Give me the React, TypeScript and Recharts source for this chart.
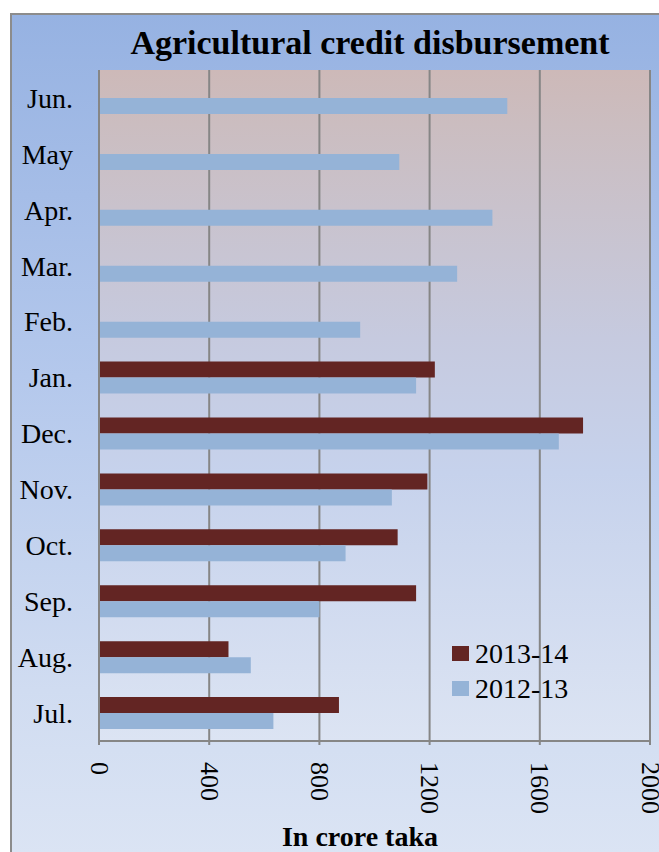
import React from 'react'
import { BarChart, Bar, XAxis, YAxis, CartesianGrid } from 'recharts'

// Months, top to bottom as they appear in the chart
const MONTHS = ['Jun.', 'May', 'Apr.', 'Mar.', 'Feb.', 'Jan.', 'Dec.', 'Nov.', 'Oct.', 'Sep.', 'Aug.', 'Jul.']

// In crore taka (2013-14 only runs to January)
const FY_2013_14 = [null, null, null, null, null, 1219, 1757, 1192, 1084, 1151, 470, 871]
const FY_2012_13 = [1482, 1090, 1428, 1300, 948, 1151, 1669, 1063, 895, 800, 551, 633]

const X_TICKS = [0, 400, 800, 1200, 1600, 2000]

const SERIES = [
  { key: 'fy1314', name: '2013-14', color: '#632523' },
  { key: 'fy1213', name: '2012-13', color: '#95b3d7' },
]

const FONT = "'Liberation Serif', 'Times New Roman', serif"

const data = MONTHS.map((month, i) => ({
  month,
  fy1314: FY_2013_14[i],
  fy1213: FY_2012_13[i],
}))

// month labels on the left
function MonthTick(props: any) {
  const { y, payload } = props
  return (
    <text x={73} y={y} dy="0.35em" textAnchor="end" style={{ fontFamily: FONT }} fontSize={28} fill="#000">
      {payload.value}
    </text>
  )
}

// value labels under the axis, turned 90 degrees
function ValueTick(props: any) {
  const { x, y, payload } = props
  const ty = y + 15
  return (
    <text
      x={x}
      y={ty}
      transform={`rotate(90, ${x}, ${ty})`}
      textAnchor="start"
      dominantBaseline="central"
      style={{ fontFamily: FONT }}
      fontSize={26}
      fill="#000"
    >
      {payload.value}
    </text>
  )
}

// legend sits inside the plot, lower right
function LegendBox() {
  return (
    <div
      style={{
        position: 'absolute',
        left: 452,
        top: 636,
        fontFamily: FONT,
        fontSize: 28,
        color: '#000',
        lineHeight: '35px',
      }}
    >
      {SERIES.map((s) => (
        <div key={s.key} style={{ display: 'flex', alignItems: 'center' }}>
          <span style={{ display: 'inline-block', width: 17, height: 15, background: s.color, marginRight: 6 }} />
          <span>{s.name}</span>
        </div>
      ))}
    </div>
  )
}

export default function App() {
  return (
    <div style={{ position: 'absolute', left: 0, top: 0, width: 659, height: 852, background: '#fff', overflow: 'hidden' }}>
      {/* outer frame with blue gradient */}
      <div
        style={{
          position: 'absolute',
          left: 10,
          top: 13,
          width: 700,
          height: 900,
          borderLeft: '2px solid #8c8c8c',
          borderTop: '2px solid #8c8c8c',
          background: 'linear-gradient(to bottom, #96b2e2 0%, #b4c8ec 40%, #d0dcf1 75%, #dfe7f5 100%)',
        }}
      />
      <BarChart
        width={659}
        height={852}
        data={data}
        layout="vertical"
        margin={{ top: 70, right: 9, bottom: 0, left: 10 }}
        barSize={16}
        barGap={0}
        style={{ position: 'absolute', left: 0, top: 0 }}
      >
        <defs>
          <linearGradient id="plotBg" x1="0" y1="0" x2="0" y2="1">
            <stop offset="0%" stopColor="#cdb9b8" />
            <stop offset="8%" stopColor="#cbbdc0" />
            <stop offset="40%" stopColor="#c6cadf" />
            <stop offset="60%" stopColor="#c6d2ec" />
            <stop offset="100%" stopColor="#dce4f3" />
          </linearGradient>
        </defs>
        <CartesianGrid horizontal={false} stroke="#868686" strokeWidth={2} fill="url(#plotBg)" />
        <XAxis
          type="number"
          domain={[0, 2000]}
          ticks={X_TICKS}
          interval={0}
          height={111}
          axisLine={{ stroke: '#868686', strokeWidth: 2 }}
          tickLine={{ stroke: '#868686', strokeWidth: 2 }}
          tickSize={4}
          tick={<ValueTick />}
        />
        <XAxis
          xAxisId="top"
          orientation="top"
          type="number"
          domain={[0, 2000]}
          height={0}
          tick={false}
          tickLine={false}
          axisLine={{ stroke: '#111', strokeWidth: 2 }}
        />
        <YAxis
          type="category"
          dataKey="month"
          width={89}
          tickLine={false}
          axisLine={{ stroke: '#868686', strokeWidth: 2 }}
          tick={<MonthTick />}
          interval={0}
        />
        <YAxis
          yAxisId="right"
          orientation="right"
          type="category"
          dataKey="month"
          width={0}
          tick={false}
          tickLine={false}
          axisLine={{ stroke: '#111', strokeWidth: 2 }}
        />
        {SERIES.map((s) => (
          <Bar key={s.key} dataKey={s.key} name={s.name} fill={s.color} isAnimationActive={false} />
        ))}
        <text x={370} y={54} textAnchor="middle" style={{ fontFamily: FONT }} fontWeight="bold" fontSize={34} fill="#000">
          Agricultural credit disbursement
        </text>
        <text x={360} y={846} textAnchor="middle" style={{ fontFamily: FONT }} fontWeight="bold" fontSize={28} fill="#000">
          In crore taka
        </text>
      </BarChart>
      <LegendBox />
    </div>
  )
}
